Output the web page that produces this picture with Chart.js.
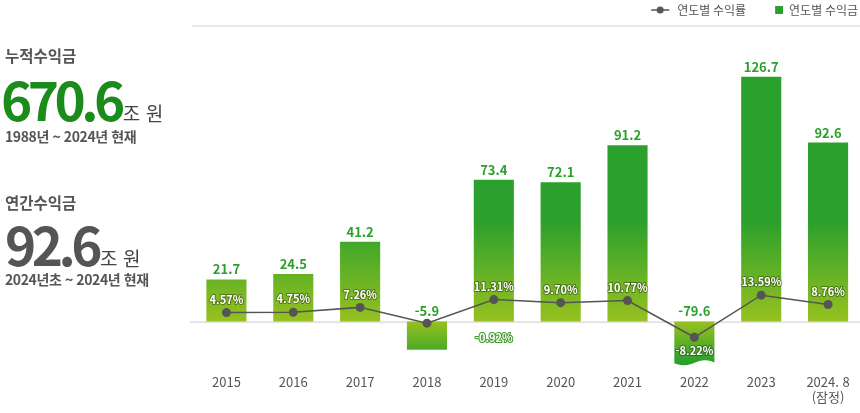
<!DOCTYPE html>
<html lang="ko">
<head>
<meta charset="utf-8">
<script src="https://cdn.jsdelivr.net/npm/chart.js@4.4.1/dist/chart.umd.min.js"></script>
<style>
  body { margin: 0; background: #fff; overflow: hidden; }
  #wrap { position: relative; width: 860px; height: 413px; overflow: hidden; font-family: 'Noto Sans CJK KR', 'Noto Sans', sans-serif; }
  #chart { position: absolute; left: 0; top: 0; }
  .label { position: absolute; left: 5px; font-size: 15.5px; font-weight: 700; color: #555; line-height: 1; white-space: nowrap; }
  .big { position: absolute; left: 1px; font-size: 53px; font-weight: 700; letter-spacing: -4.5px; line-height: 1; white-space: nowrap; }
  .big small { font-size: 19px; font-weight: 400; color: #444; letter-spacing: 0; margin-left: 2px; }
  .sub { position: absolute; left: 5px; font-size: 14px; font-weight: 700; color: #555; line-height: 1; white-space: nowrap; letter-spacing: -0.4px; }
</style>
</head>
<body>
<div id="wrap">
  <canvas id="chart" width="866" height="413"></canvas>
  <div class="label" style="top:48px">누적수익금</div>
  <div class="big" id="total" style="top:72px;color:#1b8c1b"></div>
  <div class="sub" style="top:129px">1988년 ~ 2024년 현재</div>
  <div class="label" style="top:195px">연간수익금</div>
  <div class="big" id="annual" style="top:217px;left:5px;color:#555"></div>
  <div class="sub" style="top:272px">2024년초 ~ 2024년 현재</div>
</div>
<script>
const years = ['2015', '2016', '2017', '2018', '2019', '2020', '2021', '2022', '2023', ['2024. 8', '(잠정)']];
const profits = [21.7, 24.5, 41.2, -5.9, 73.4, 72.1, 91.2, -79.6, 126.7, 92.6];
const rates = [4.57, 4.75, 7.26, -0.92, 11.31, 9.70, 10.77, -8.22, 13.59, 8.76];
const totalProfit = '670.6';
const annualProfit = '92.6';

const GREEN = '#2ca02c';
const LIME = '#97c11f';
const GREY = '#555';
const FONT = "'Noto Sans CJK KR', 'Noto Sans', sans-serif";

document.getElementById('total').innerHTML = totalProfit + '<small>조 원</small>';
document.getElementById('annual').innerHTML = annualProfit + '<small>조 원</small>';

// negative years are drawn on a shortened (broken) axis, like the original
class BrokenScale extends Chart.LinearScale {
  getPixelForValue(value) {
    const px = super.getPixelForValue(value < 0 ? value * 2.5 : value);
    return Math.min(px, this.bottom);
  }
}
BrokenScale.id = 'brokenLinear';
BrokenScale.defaults = Chart.LinearScale.defaults;
Chart.register(BrokenScale);

function legendIcon(kind) {
  const c = document.createElement('canvas');
  c.width = 31;
  c.height = 10;
  const g = c.getContext('2d');
  if (kind === 'line') {
    g.strokeStyle = GREY;
    g.lineWidth = 1.5;
    g.beginPath();
    g.moveTo(11, 5);
    g.lineTo(29, 5);
    g.stroke();
    g.fillStyle = GREY;
    g.beginPath();
    g.arc(20, 5, 3.5, 0, Math.PI * 2);
    g.fill();
  } else {
    g.fillStyle = GREEN;
    g.fillRect(23, 1, 8, 8);
  }
  return c;
}

function barFill(context) {
  const chart = context.chart;
  if (!chart.chartArea) return GREEN;
  const base = chart.scales.y.getPixelForValue(0);
  const v = context.raw;
  const grad = chart.ctx.createLinearGradient(0, base, 0, v >= 0 ? base - 100 : base + 40);
  grad.addColorStop(0, LIME);
  grad.addColorStop(1, GREEN);
  return grad;
}

const frame = {
  id: 'frame',
  beforeDatasetsDraw(chart) {
    const { ctx, chartArea } = chart;
    const zero = chart.scales.y.getPixelForValue(0);
    ctx.save();
    ctx.fillStyle = '#e8e8e8';
    ctx.fillRect(chartArea.left - 1, chartArea.top - 1, chartArea.right - chartArea.left + 1, 2);
    ctx.fillStyle = '#dddddd';
    ctx.fillRect(chartArea.left - 3, zero, chartArea.right - chartArea.left + 3, 1.5);
    ctx.restore();
  }
};

const valueLabels = {
  id: 'valueLabels',
  afterDatasetsDraw(chart) {
    const { ctx, chartArea } = chart;
    const bars = chart.getDatasetMeta(1).data;
    const points = chart.getDatasetMeta(0).data;
    const step = bars.length > 1 ? bars[1].x - bars[0].x : 0;
    ctx.save();

    // wavy cut on bars that run off the bottom
    bars.forEach(bar => {
      if (bar.y < chartArea.bottom - 0.5) return;
      const l = bar.x - bar.width / 2 - 1, r = bar.x + bar.width / 2 + 1;
      const yb = chartArea.bottom - 3;
      ctx.fillStyle = '#fff';
      ctx.beginPath();
      ctx.moveTo(l, yb);
      for (let x = l; x <= r; x++) {
        ctx.lineTo(x, yb + 2.5 * Math.sin((x - l) / (r - l) * Math.PI * 2));
      }
      ctx.lineTo(r, chartArea.bottom + 4);
      ctx.lineTo(l, chartArea.bottom + 4);
      ctx.closePath();
      ctx.fill();
    });

    ctx.textAlign = 'center';
    ctx.textBaseline = 'middle';
    ctx.font = 'bold 13px ' + FONT;
    ctx.fillStyle = GREEN;
    bars.forEach((bar, i) => {
      ctx.fillText(profits[i].toFixed(1), bar.x, Math.min(bar.y, bar.base) - 10);
    });

    ctx.font = 'bold 11px ' + FONT;
    ctx.lineJoin = 'round';
    points.forEach((pt, i) => {
      const text = rates[i].toFixed(2) + '%';
      let x = pt.x, y = pt.y - 13, edge = 'rgba(0,0,0,0.35)';
      if (rates[i] < 0) {
        y = pt.y + 14;
        // small negative year: label sits below the next bar, as in the source
        if (Math.abs(profits[i]) < 10) { x = pt.x + step; y = pt.y + 15; edge = '#3f9a2a'; }
      }
      ctx.lineWidth = 2;
      ctx.strokeStyle = edge;
      ctx.strokeText(text, x, y);
      ctx.fillStyle = '#fff';
      ctx.fillText(text, x, y);
    });
    ctx.restore();
  }
};

new Chart(document.getElementById('chart'), {
  data: {
    labels: years,
    datasets: [
      {
        type: 'line',
        label: '연도별 수익률',
        data: rates,
        yAxisID: 'y2',
        borderColor: GREY,
        borderWidth: 1.5,
        pointRadius: 4.5,
        pointBackgroundColor: GREY,
        pointBorderWidth: 0,
        order: 0
      },
      {
        type: 'bar',
        label: '연도별 수익금',
        data: profits,
        yAxisID: 'y',
        backgroundColor: barFill,
        categoryPercentage: 1,
        barPercentage: 0.6,
        order: 1
      }
    ]
  },
  options: {
    responsive: false,
    animation: false,
    devicePixelRatio: 1,
    layout: { padding: { left: 193, right: 2, top: -2, bottom: 8 } },
    plugins: {
      tooltip: { enabled: false },
      legend: {
        position: 'top',
        align: 'end',
        labels: {
          usePointStyle: true,
          pointStyleWidth: 31,
          boxHeight: 10,
          padding: 6,
          color: GREY,
          font: { size: 12, family: FONT },
          generateLabels() {
            return [
              { text: '연도별 수익률', pointStyle: legendIcon('line'), fontColor: GREY, lineWidth: 0, strokeStyle: 'transparent', datasetIndex: 0 },
              { text: '연도별 수익금', pointStyle: legendIcon('bar'), fontColor: GREY, lineWidth: 0, strokeStyle: 'transparent', datasetIndex: 1 }
            ];
          }
        }
      }
    },
    scales: {
      x: {
        grid: { display: false },
        border: { display: false },
        ticks: { color: GREY, font: { size: 13, family: FONT }, padding: 0, maxRotation: 0 }
      },
      y: { type: 'brokenLinear', display: false, min: -23, max: 153 },
      y2: { type: 'linear', display: false, min: -23, max: 153 }
    }
  },
  plugins: [frame, valueLabels]
});
</script>
</body>
</html>
